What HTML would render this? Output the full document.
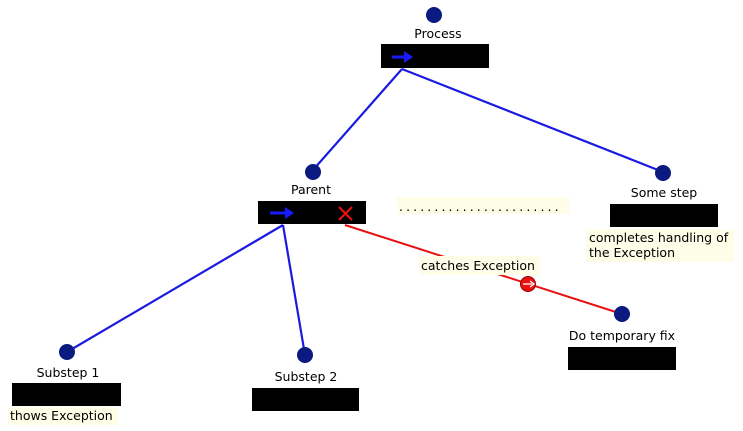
<!DOCTYPE html>
<html><head><style>
body{margin:0;background:#fff;width:743px;height:426px;overflow:hidden;font-family:"Liberation Sans","DejaVu Sans",sans-serif;}
svg text{font-family:"DejaVu Sans","Liberation Sans",sans-serif;font-size:12.5px;fill:#000;}
</style></head><body>
<svg width="743" height="426" viewBox="0 0 743 426">
<g stroke="#1a1ae0" stroke-width="2.2" fill="none">
<line x1="402" y1="69" x2="313" y2="170"/>
<line x1="402" y1="69" x2="663" y2="172"/>
<line x1="283" y1="225" x2="67" y2="352"/>
<line x1="283" y1="225" x2="305" y2="355"/>
</g>
<line x1="345" y1="225" x2="622" y2="314" stroke="#e81010" stroke-width="2"/>
<circle cx="434" cy="15" r="8" fill="#0a1a80"/>
<text x="438" y="38" text-anchor="middle">Process</text>
<rect x="381" y="44" width="108" height="24" fill="#000"/>
<line x1="392" y1="57" x2="406" y2="57" stroke="#1a1aff" stroke-width="3"/><path d="M404,51L413,57L404,63z" fill="#1a1aff"/>
<circle cx="313" cy="172" r="8" fill="#0a1a80"/>
<text x="311" y="194" text-anchor="middle">Parent</text>
<rect x="258" y="201" width="108" height="23" fill="#000"/>
<line x1="270" y1="213" x2="287" y2="213" stroke="#1a1aff" stroke-width="3"/><path d="M285,207L294,213L285,219z" fill="#1a1aff"/>
<path d="M339,207L352,220M352,207L339,220" stroke="#e81010" stroke-width="2.2"/>
<rect x="397" y="197" width="172" height="17" fill="#fdfde8"/>
<g fill="#333"><script></script></g>
<text x="399" y="211" style="letter-spacing:3.1px">.......................</text>
<rect x="419" y="256" width="121" height="19" fill="#fdfde8"/>
<text x="421" y="270">catches Exception</text>
<circle cx="528" cy="284" r="7.5" fill="#e81010" stroke="#900" stroke-width="1"/>
<line x1="523" y1="284" x2="532" y2="284" stroke="#fff" stroke-width="1.3"/><path d="M530,281L534,284L530,287" stroke="#fff" fill="none" stroke-width="1.3"/>
<circle cx="663" cy="173" r="8" fill="#0a1a80"/>
<text x="664" y="197" text-anchor="middle">Some step</text>
<rect x="610" y="204" width="108" height="23" fill="#000"/>
<rect x="586" y="229" width="148" height="33" fill="#fdfde8"/>
<text x="589" y="242">completes handling of</text>
<text x="589" y="257">the Exception</text>
<circle cx="622" cy="314" r="8" fill="#0a1a80"/>
<text x="622" y="340" text-anchor="middle">Do temporary fix</text>
<rect x="568" y="347" width="108" height="23" fill="#000"/>
<circle cx="67" cy="352" r="8" fill="#0a1a80"/>
<text x="68" y="377" text-anchor="middle">Substep 1</text>
<rect x="12" y="383" width="109" height="23" fill="#000"/>
<rect x="8" y="407" width="110" height="18" fill="#fdfde8"/>
<text x="10" y="420">thows Exception</text>
<circle cx="305" cy="355" r="8" fill="#0a1a80"/>
<text x="306" y="381" text-anchor="middle">Substep 2</text>
<rect x="252" y="388" width="107" height="23" fill="#000"/>
</svg>
</body></html>
